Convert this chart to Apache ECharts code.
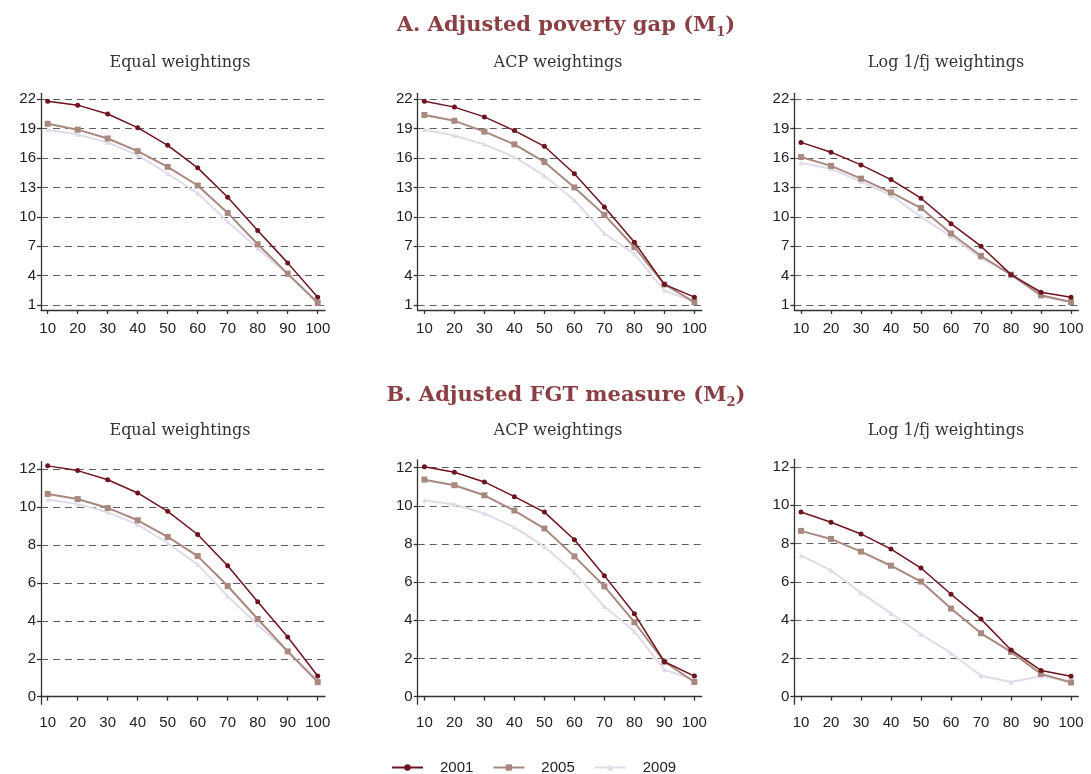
<!DOCTYPE html>
<html>
<head>
<meta charset="utf-8">
<title>Adjusted poverty measures</title>
<script src="https://cdn.jsdelivr.net/npm/echarts@6/dist/echarts.min.js"></script>
<style>
  html, body { margin: 0; padding: 0; background: #ffffff; }
  #chart { width: 1091px; height: 774px; }
</style>
</head>
<body>
<div id="chart"></div>
<script>
// Poverty cut-off (k, %) along the x axis
const cutoffs = [10, 20, 30, 40, 50, 60, 70, 80, 90, 100];
const years = ['2001', '2005', '2009'];

// Tick values
const xTicks = [10, 20, 30, 40, 50, 60, 70, 80, 90, 100];
const m1Ticks = [1, 4, 7, 10, 13, 16, 19, 22];
const m2Ticks = [0, 2, 4, 6, 8, 10, 12];

// Panel headings
const weightings = ['Equal weightings', 'ACP weightings', 'Log 1/fj weightings'];

// A. Adjusted poverty gap (M1)
const m1Equal2001 = [21.8, 21.4, 20.5, 19.1, 17.3, 15.0, 12.0, 8.6, 5.3, 1.8];
const m1Equal2005 = [19.5, 18.9, 18.0, 16.7, 15.1, 13.2, 10.4, 7.2, 4.2, 1.2];
const m1Equal2009 = [18.9, 18.4, 17.6, 16.3, 14.4, 12.4, 9.5, 6.8, 4.1, 1.3];

const m1Acp2001 = [21.8, 21.2, 20.2, 18.8, 17.2, 14.4, 11.0, 7.4, 3.1, 1.8];
const m1Acp2005 = [20.4, 19.8, 18.7, 17.4, 15.6, 13.0, 10.2, 6.9, 3.1, 1.3];
const m1Acp2009 = [18.9, 18.3, 17.4, 16.1, 14.2, 11.7, 8.3, 6.2, 2.5, 1.3];

const m1Log2001 = [17.6, 16.6, 15.3, 13.8, 11.9, 9.3, 7.0, 4.1, 2.3, 1.8];
const m1Log2005 = [16.1, 15.2, 13.9, 12.5, 10.9, 8.3, 6.0, 4.1, 2.0, 1.3];
const m1Log2009 = [15.5, 14.9, 13.6, 12.2, 10.0, 8.0, 5.8, 4.1, 1.9, 1.3];

// B. Adjusted FGT measure (M2)
const m2Equal2001 = [12.18, 11.93, 11.45, 10.75, 9.78, 8.56, 6.91, 5.01, 3.15, 1.09];
const m2Equal2005 = [10.70, 10.43, 9.96, 9.31, 8.43, 7.42, 5.84, 4.10, 2.39, 0.77];
const m2Equal2009 = [10.40, 10.17, 9.73, 9.08, 8.11, 6.97, 5.30, 3.80, 2.39, 0.90];

const m2Acp2001 = [12.05, 11.76, 11.25, 10.48, 9.67, 8.22, 6.34, 4.34, 1.83, 1.08];
const m2Acp2005 = [11.37, 11.08, 10.55, 9.75, 8.81, 7.35, 5.78, 3.90, 1.83, 0.77];
const m2Acp2009 = [10.29, 10.07, 9.60, 8.87, 7.86, 6.50, 4.72, 3.41, 1.41, 0.89];

const m2Log2001 = [9.65, 9.11, 8.50, 7.71, 6.72, 5.35, 4.05, 2.44, 1.37, 1.07];
const m2Log2005 = [8.66, 8.24, 7.58, 6.84, 6.01, 4.60, 3.31, 2.34, 1.19, 0.74];
const m2Log2009 = [7.38, 6.60, 5.42, 4.35, 3.26, 2.27, 1.09, 0.76, 1.06, 0.80];

const panelData = [
  [m1Equal2001, m1Equal2005, m1Equal2009],
  [m1Acp2001, m1Acp2005, m1Acp2009],
  [m1Log2001, m1Log2005, m1Log2009],
  [m2Equal2001, m2Equal2005, m2Equal2009],
  [m2Acp2001, m2Acp2005, m2Acp2009],
  [m2Log2001, m2Log2005, m2Log2009]
];

const yearStyle = [
  { color: '#6e1320', symbol: 'circle', size: 5, width: 1.5 },
  { color: '#a8897f', symbol: 'rect', size: 6, width: 2 },
  { color: '#e0dbe7', symbol: 'triangle', size: 5, width: 2 }
];

const serif = '"DejaVu Serif", "Liberation Serif", serif';
const sans = '"Liberation Sans", Arial, sans-serif';
const titleColor = '#8a3f45';

// Plot areas for the six panels (top row: M1, bottom row: M2)
const colLeft = [41, 417.7, 794.3];
const gridW = 284;
const grids = [];
for (let r = 0; r < 2; r++) {
  for (let c = 0; c < 3; c++) {
    if (r === 0) {
      grids.push({ left: colLeft[c], width: gridW, top: 93.3, height: 216.7 });
    } else {
      const tops = [461.7, 460, 459.3];
      grids.push({ left: colLeft[c], width: gridW, top: tops[c], height: 704.3 - tops[c] });
    }
  }
}

const axisLineStyle = { color: '#333', width: 1.3 };

const xAxes = grids.map((g, i) => ({
  type: 'value',
  gridIndex: i,
  min: 7.77,
  max: 102.43,
  axisLine: { show: true, lineStyle: axisLineStyle },
  axisTick: { show: true, length: 4, customValues: xTicks, lineStyle: axisLineStyle },
  axisLabel: { customValues: xTicks, margin: 11, color: '#222', fontFamily: sans, fontSize: 15 },
  splitLine: { show: false }
}));

const yAxes = grids.map((g, i) => {
  const top = i < 3;
  const ticks = top ? m1Ticks : m2Ticks;
  return {
    type: 'value',
    gridIndex: i,
    min: top ? 0.49 : -0.4,
    max: top ? 22.61 : 12.4,
    axisLine: { show: true, lineStyle: axisLineStyle },
    axisTick: { show: true, length: 4, customValues: ticks, lineStyle: axisLineStyle },
    axisLabel: { customValues: ticks, margin: 5, color: '#222', fontFamily: sans, fontSize: 15 },
    splitLine: {
      show: true,
      lineStyle: { color: '#5e5e5e', width: 1, type: [7, 5] }
    }
  };
});

const series = [];
panelData.forEach((sets, p) => {
  sets.forEach((vals, y) => {
    const st = yearStyle[y];
    series.push({
      name: years[y],
      type: 'line',
      xAxisIndex: p,
      yAxisIndex: p,
      data: cutoffs.map((k, j) => [k, vals[j]]),
      symbol: st.symbol,
      symbolSize: st.size,
      showSymbol: true,
      z: 10 - y,
      lineStyle: { color: st.color, width: st.width },
      itemStyle: { color: st.color },
      emphasis: { disabled: true },
      animation: false
    });
  });
});

// Headings drawn as text elements
const headX = [180, 558, 946];
const graphics = [];
function sectionTitle(text, sub, y) {
  graphics.push({
    type: 'text',
    x: 566, y: y,
    style: {
      text: '{t|' + text + '}{s|' + sub + '}{t|)}',
      align: 'center',
      verticalAlign: 'middle',
      rich: {
        t: { fontFamily: serif, fontWeight: 'bold', fontSize: 21, lineHeight: 26, fill: titleColor, color: titleColor },
        s: { fontFamily: serif, fontWeight: 'bold', fontSize: 13, lineHeight: 13, verticalAlign: 'bottom', fill: titleColor, color: titleColor }
      }
    }
  });
}
sectionTitle('A. Adjusted poverty gap (M', '1', 26);
sectionTitle('B. Adjusted FGT measure (M', '2', 396);
[63, 431].forEach(y => {
  weightings.forEach((w, c) => {
    graphics.push({
      type: 'text',
      x: headX[c], y: y,
      style: {
        text: w,
        align: 'center',
        verticalAlign: 'middle',
        fontFamily: serif,
        fontSize: 16,
        fill: '#333'
      }
    });
  });
});

const chart = echarts.init(document.getElementById('chart'), null, { renderer: 'canvas' });
chart.setOption({
  animation: false,
  backgroundColor: '#ffffff',
  grid: grids,
  xAxis: xAxes,
  yAxis: yAxes,
  series: series,
  graphic: graphics,
  legend: {
    data: years,
    left: 386,
    top: 755,
    itemWidth: 31,
    itemHeight: 8,
    itemGap: 19,
    textStyle: { fontFamily: sans, fontSize: 15, color: '#222', padding: [0, 0, 0, 12] }
  }
});
</script>
</body>
</html>
